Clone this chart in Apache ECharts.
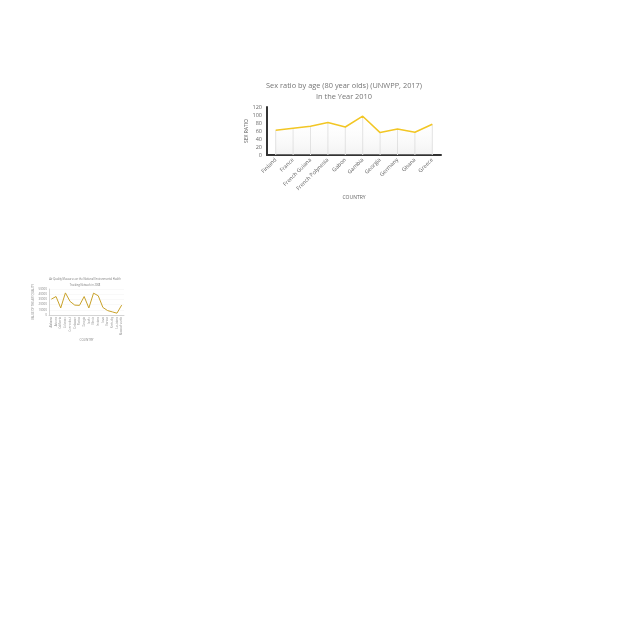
<!DOCTYPE html>
<html>
<head>
<meta charset="utf-8">
<script src="https://cdn.jsdelivr.net/npm/echarts@6/dist/echarts.min.js"></script>
<style>
html,body{margin:0;padding:0;background:#fff;}
#c{width:640px;height:640px;}
</style>
</head>
<body>
<div id="c"></div>
<script>
// Main chart data
const countries = ["Finland","France","French Guiana","French Polynesia","Gabon","Gambia","Georgia","Germany","Ghana","Greece"];
const sexRatio = [62, 67, 72, 81, 70, 97, 56, 65, 57, 77];
const sexTicks = [0, 20, 40, 60, 80, 100, 120];

// Small chart data
const regions = ["Alabama","Arizona","California","Colorado","Connecticut","Delaware","Florida","Georgia","Idaho","Illinois","Indiana","Iowa","Kansas","Kentucky","Louisiana","Massachusetts"];
const airValues = [30500, 35500, 13500, 42500, 26000, 19000, 18500, 35500, 13500, 42000, 37000, 14500, 8500, 6000, 3500, 19000];

const chart = echarts.init(document.getElementById('c'), null, {renderer:'canvas'});
chart.setOption({
  backgroundColor:'#fff',
  animation:false,
  title:[
    {text:'Sex ratio by age (80 year olds) (UNWPP, 2017)\nIn the Year 2010', left:344, top:81, textAlign:'center', padding:0,
     textStyle:{fontSize:7.4, fontWeight:'normal', color:'#757575', lineHeight:10.5, fontFamily:'Open Sans'}},
    {text:'Air Quality Measures on the National Environmental Health\nTracking Network in 2008', left:85, top:276, textAlign:'center', padding:0,
     textStyle:{fontSize:2.6, fontWeight:'normal', color:'#777', lineHeight:6, fontFamily:'Open Sans'}}
  ],
  grid:[
    {left:267, top:107, width:174, height:48},
    {left:49, top:289, width:75, height:26}
  ],
  xAxis:[
    {type:'category', gridIndex:0, data:countries, boundaryGap:true,
     axisLine:{lineStyle:{color:'#333', width:2}}, axisTick:{show:false},
     axisLabel:{rotate:45, fontSize:5.5, color:'#666', margin:4, interval:0, fontFamily:'Open Sans'},
     name:'COUNTRY', nameLocation:'middle', nameGap:33,
     nameTextStyle:{fontSize:5, color:'#666', fontFamily:'Open Sans'}},
    {type:'category', gridIndex:1, data:regions, boundaryGap:true,
     axisLine:{lineStyle:{color:'#bbb', width:0.6}}, axisTick:{show:false},
     axisLabel:{rotate:90, fontSize:2.6, color:'#888', margin:2, interval:0, fontFamily:'Open Sans'},
     name:'COUNTRY', nameLocation:'middle', nameGap:17,
     nameTextStyle:{fontSize:3, color:'#888', fontFamily:'Open Sans'}}
  ],
  yAxis:[
    {type:'value', gridIndex:0, min:sexTicks[0], max:sexTicks[sexTicks.length-1], interval:20,
     axisLine:{show:true, lineStyle:{color:'#333', width:2}}, axisTick:{show:false},
     splitLine:{show:false},
     axisLabel:{fontSize:5.5, color:'#666', margin:5, fontFamily:'Open Sans'},
     name:'SEX RATIO', nameLocation:'middle', nameRotate:90, nameGap:14,
     nameTextStyle:{fontSize:5, color:'#555', fontFamily:'Open Sans'}},
    {type:'value', gridIndex:1, min:0, max:50000, interval:10000,
     axisLine:{show:true, lineStyle:{color:'#bbb', width:0.6}}, axisTick:{show:false},
     splitLine:{show:true, lineStyle:{color:'#f2f2f2', width:0.5}},
     axisLabel:{fontSize:3, color:'#888', margin:2, fontFamily:'Open Sans', formatter:function(v){return String(v);}},
     name:'VALUE OF THE AIR QUALITY', nameLocation:'middle', nameRotate:90, nameGap:13,
     nameTextStyle:{fontSize:2.8, color:'#888', fontFamily:'Open Sans'}}
  ],
  series:[
    {type:'bar', xAxisIndex:0, yAxisIndex:0, data:sexRatio, barWidth:1,
     itemStyle:{color:'#e2e2e2'}, z:1, silent:true},
    {type:'line', xAxisIndex:0, yAxisIndex:0, data:sexRatio, symbol:'none',
     lineStyle:{color:'#f2c624', width:1.5}, z:3,
     areaStyle:{color:new echarts.graphic.LinearGradient(0,0,0,1,[
       {offset:0, color:'rgba(255,255,255,0)'},
       {offset:1, color:'rgba(215,215,215,0.45)'}])}},
    {type:'line', xAxisIndex:1, yAxisIndex:1, data:airValues, symbol:'none',
     lineStyle:{color:'#c9a22a', width:1}}
  ]
});
</script>
</body>
</html>
